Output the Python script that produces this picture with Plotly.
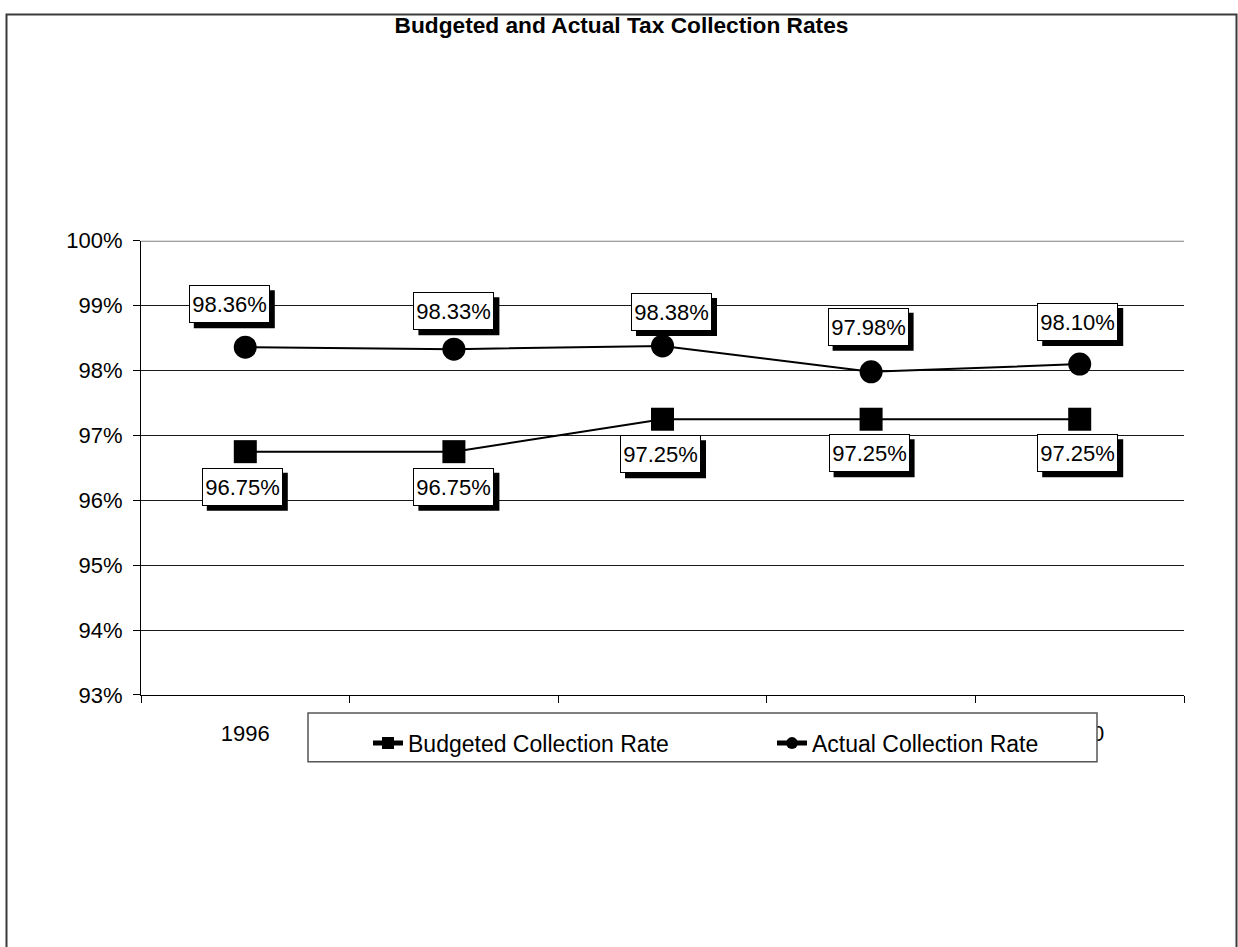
import plotly.graph_objects as go

# Collection rates by fiscal year (fractions)
years = ["1996", "1997", "1998", "1999", "2000"]
budgeted = [0.9675, 0.9675, 0.9725, 0.9725, 0.9725]
actual = [0.9836, 0.9833, 0.9838, 0.9798, 0.9810]

# Pixel offsets (screen dx, dy) of each data label centre from its point
budget_label_offsets = [(-3, 35), (0, 35), (-2, 35), (-2, 34), (-2, 34)]
actual_label_offsets = [(-16, -43), (0, -38), (9, -34), (-3, -45), (-2, -42)]

W, H = 1238, 947
FONT = "Liberation Sans, Arial, sans-serif"
BOX_W, BOX_H, SHADOW = 81, 38, 5

fig = go.Figure()
fig.add_trace(go.Scatter(
    x=years, y=budgeted, name="Budgeted Collection Rate",
    mode="lines+markers",
    line=dict(color="black", width=2),
    marker=dict(symbol="square", size=23, color="black"),
))
fig.add_trace(go.Scatter(
    x=years, y=actual, name="Actual Collection Rate",
    mode="lines+markers",
    line=dict(color="black", width=2),
    marker=dict(symbol="circle", size=23, color="black"),
))

annotations = []
shapes = []


def add_label(i, y, dx, dy):
    cx, cy = dx, -dy  # plotly pixel offsets (y up)
    # drop shadow behind the label box
    shapes.append(dict(
        type="rect", xref="x", yref="y",
        xsizemode="pixel", ysizemode="pixel", xanchor=i, yanchor=y,
        x0=cx + SHADOW - BOX_W / 2, x1=cx + SHADOW + BOX_W / 2,
        y0=cy - SHADOW - BOX_H / 2, y1=cy - SHADOW + BOX_H / 2,
        fillcolor="black", line=dict(width=0), layer="above",
    ))
    # label box with the value
    annotations.append(dict(
        x=i, y=y, xref="x", yref="y", text=f"{y:.2%}", showarrow=False,
        xanchor="center", yanchor="middle",
        width=BOX_W - 4, height=BOX_H - 4,
        borderwidth=1, borderpad=1,
        bgcolor="white", bordercolor="black",
        xshift=cx, yshift=cy,
        font=dict(family=FONT, size=22, color="black"),
    ))


for i, (v, (dx, dy)) in enumerate(zip(budgeted, budget_label_offsets)):
    add_label(i, v, dx, dy)
for i, (v, (dx, dy)) in enumerate(zip(actual, actual_label_offsets)):
    add_label(i, v, dx, dy)

shapes += [
    # chart-area border
    dict(type="rect", xref="paper", yref="paper",
         x0=6.5 / W, x1=1236.5 / W, y0=-20 / H, y1=1 - 2.5 / H,
         line=dict(color="#3a3a3a", width=2), fillcolor="rgba(0,0,0,0)",
         layer="below"),
    # top edge of the plot area at 100%
    dict(type="line", xref="x domain", yref="y",
         x0=0, x1=1, y0=1.0, y1=1.0,
         line=dict(color="#808080", width=2), layer="below"),
    # legend frame
    dict(type="rect", xref="paper", yref="paper",
         x0=308 / W, x1=1097 / W, y0=1 - 770 / H, y1=1 - 720 / H,
         line=dict(color="#555555", width=1.5), fillcolor="white",
         layer="above"),
]

fig.update_layout(
    width=W, height=H,
    margin=dict(l=0, r=0, t=0, b=0),
    paper_bgcolor="white", plot_bgcolor="white",
    font=dict(family=FONT, size=22, color="black"),
    title=dict(text="<b>Budgeted and Actual Tax Collection Rates</b>",
               x=621.5 / W, xref="paper", xanchor="center",
               y=1 - 25 / H, yref="container", yanchor="middle",
               font=dict(family=FONT, size=22.7, color="black")),
    xaxis=dict(
        domain=[141 / W, 1184 / W], type="category",
        categoryorder="array", categoryarray=years,
        range=[-0.5, 4.5], tickson="boundaries",
        ticks="outside", ticklen=7, tickcolor="black",
        showline=True, linecolor="black", linewidth=1,
        showgrid=False, zeroline=False,
        ticklabelstandoff=19,
        tickfont=dict(family=FONT, size=22, color="black"),
    ),
    yaxis=dict(
        domain=[1 - 701.5 / H, 1 - 235 / H],
        range=[0.93, 1.00], dtick=0.01, tick0=0.93, tickformat=".0%",
        ticks="outside", ticklen=7, tickcolor="black",
        showline=True, linecolor="black", linewidth=1,
        showgrid=True, gridcolor="#1a1a1a", gridwidth=1, zeroline=False,
        ticklabelstandoff=6,
        tickfont=dict(family=FONT, size=22, color="black"),
    ),
    showlegend=True,
    legend=dict(
        orientation="h", x=368 / W, xanchor="left",
        y=1 - 751 / H, yanchor="middle",
        bgcolor="rgba(0,0,0,0)", borderwidth=0,
        entrywidth=359, entrywidthmode="pixels",
        itemsizing="constant",
        font=dict(family=FONT, size=23, color="black"),
    ),
    annotations=annotations,
    shapes=shapes,
)

fig.write_html("out.html")
